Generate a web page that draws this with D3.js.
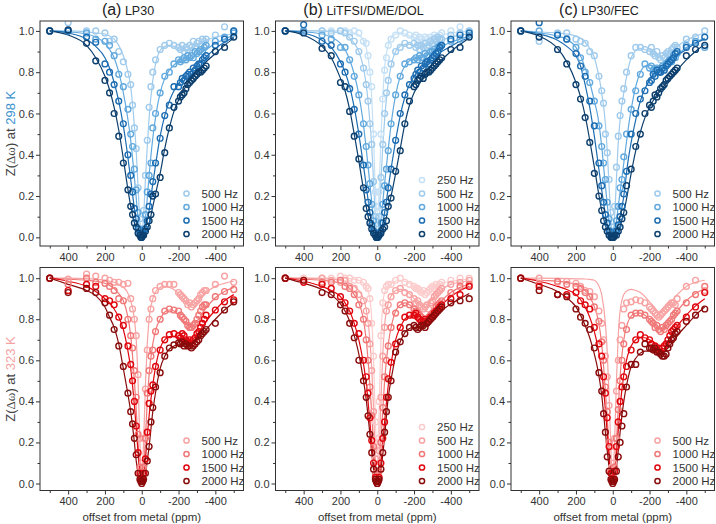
<!DOCTYPE html>
<html><head><meta charset="utf-8">
<script src="https://cdn.jsdelivr.net/npm/d3@7"></script>
<style>body{margin:0;background:#fff} text{font-family:"Liberation Sans",Arial,sans-serif}</style>
</head><body><svg id="c" width="716" height="524"></svg>
<script>
// ---------- DATA ----------
const offsets = [500,400,300,250,200,175,150,125,100,75,60,50,40,30,20,10,5,0,-5,-10,-20,-30,-40,-50,-60,-75,-100,-125,-150,-175,-200,-210,-220,-230,-240,-250,-260,-270,-280,-290,-300,-310,-320,-330,-340,-350,-400,-450,-500];
const fitOffsets = [500,400,300,250,200,175,150,125,100,80,60,40,30,20,10,0,-10,-20,-30,-40,-60,-80,-100,-125,-150,-175,-200,-225,-250,-275,-300,-350,-400,-450,-500];
const xTickValues = [400,200,0,-200,-400];
const xMinorValues = [500,300,100,-100,-300,-500];
const yTickValues = [0,0.2,0.4,0.6,0.8,1.0];
const yMinorValues = [0.1,0.3,0.5,0.7,0.9];
const panelTitles = [["(a)","LP30"],["(b)","LiTFSI/DME/DOL"],["(c)","LP30/FEC"]];
const temps = ["298 K","323 K"];

// (a) LP30, 298 K
const a298_500  = [1.00,1.04,1.00,1.00,0.99,0.95,0.96,0.90,0.85,0.79,0.74,0.64,0.53,0.43,0.24,0.09,0.03,0.02,0.04,0.13,0.30,0.47,0.63,0.73,0.80,0.86,0.91,0.93,0.94,0.93,0.92,0.91,0.93,0.90,0.92,0.91,0.93,0.92,0.95,0.92,0.94,0.95,0.93,0.96,0.95,0.96,0.98,1.02,1.00];
const a298_1000 = [1.00,1.00,0.99,0.96,0.95,0.93,0.88,0.79,0.73,0.62,0.50,0.44,0.33,0.23,0.12,0.04,0.02,0.01,0.02,0.04,0.11,0.22,0.30,0.36,0.53,0.60,0.70,0.78,0.80,0.84,0.86,0.85,0.86,0.87,0.86,0.88,0.87,0.88,0.87,0.90,0.89,0.90,0.91,0.90,0.92,0.93,0.95,0.97,0.99];
const a298_1500 = [1.00,1.00,0.97,0.945,0.84,0.80,0.74,0.66,0.55,0.40,0.30,0.22,0.14,0.09,0.04,0.02,0.01,0.00,0.01,0.02,0.04,0.08,0.15,0.21,0.27,0.36,0.48,0.59,0.64,0.73,0.73,0.75,0.77,0.76,0.78,0.79,0.80,0.79,0.82,0.81,0.83,0.84,0.84,0.86,0.87,0.88,0.93,0.96,1.00];
const a298_2000 = [1.00,1.005,0.94,0.855,0.76,0.70,0.60,0.49,0.36,0.23,0.15,0.11,0.07,0.05,0.02,0.01,0.00,0.00,0.01,0.01,0.03,0.05,0.08,0.11,0.20,0.21,0.29,0.41,0.53,0.63,0.66,0.68,0.69,0.70,0.72,0.74,0.75,0.76,0.77,0.78,0.79,0.80,0.80,0.81,0.82,0.83,0.90,0.92,0.97];
const a298_500_fit  = [1.0,1.0,0.995,0.99,0.985,0.975,0.96,0.93,0.88,0.82,0.73,0.54,0.42,0.24,0.08,0.01,0.1,0.28,0.44,0.58,0.76,0.86,0.905,0.925,0.93,0.925,0.915,0.905,0.905,0.915,0.93,0.955,0.97,0.98,0.985];
const a298_1000_fit = [1.0,0.995,0.985,0.97,0.94,0.91,0.87,0.8,0.7,0.6,0.47,0.29,0.19,0.09,0.025,0.005,0.025,0.09,0.19,0.3,0.48,0.61,0.7,0.77,0.81,0.835,0.85,0.855,0.86,0.87,0.885,0.91,0.94,0.96,0.98];
const a298_1500_fit = [1.0,0.99,0.96,0.925,0.87,0.82,0.75,0.66,0.54,0.42,0.28,0.14,0.08,0.035,0.01,0,0.01,0.035,0.08,0.13,0.26,0.38,0.49,0.59,0.66,0.71,0.745,0.77,0.79,0.81,0.835,0.875,0.915,0.945,0.97];
const a298_2000_fit = [1.0,0.98,0.93,0.87,0.78,0.715,0.63,0.52,0.38,0.26,0.15,0.07,0.04,0.018,0.005,0,0.005,0.018,0.04,0.065,0.15,0.23,0.31,0.43,0.53,0.61,0.665,0.71,0.745,0.775,0.8,0.85,0.89,0.93,0.965];

// (b) LiTFSI/DME/DOL, 298 K
const b298_250  = [1.00,1.00,1.00,1.00,1.00,1.00,0.99,1.00,0.99,0.95,0.94,0.88,0.80,0.73,0.50,0.22,0.15,0.12,0.15,0.22,0.50,0.67,0.81,0.87,0.93,0.96,0.98,1.00,0.99,0.98,0.97,0.98,0.95,0.97,0.96,0.95,0.97,0.96,0.95,0.97,0.96,0.98,0.97,0.96,0.98,0.99,1.00,1.02,1.00];
const b298_500  = [1.00,1.00,1.00,0.99,1.00,0.99,0.97,0.95,0.90,0.82,0.74,0.66,0.55,0.45,0.27,0.10,0.04,0.02,0.04,0.10,0.29,0.45,0.60,0.70,0.76,0.84,0.90,0.92,0.94,0.93,0.94,0.92,0.93,0.91,0.93,0.92,0.94,0.92,0.93,0.95,0.94,0.96,0.95,0.97,0.96,0.96,0.98,0.99,1.00];
const b298_1000 = [1.00,1.00,0.98,0.96,0.92,0.92,0.86,0.78,0.69,0.55,0.44,0.35,0.26,0.16,0.08,0.02,0.01,0.01,0.01,0.02,0.07,0.16,0.25,0.33,0.42,0.55,0.69,0.78,0.84,0.85,0.86,0.87,0.86,0.88,0.87,0.87,0.89,0.88,0.88,0.90,0.90,0.91,0.90,0.92,0.93,0.93,0.95,0.96,0.98];
const b298_1500 = [1.00,1.03,0.95,0.93,0.84,0.80,0.72,0.62,0.50,0.35,0.23,0.17,0.12,0.06,0.03,0.01,0.00,0.00,0.00,0.01,0.03,0.07,0.12,0.17,0.24,0.33,0.47,0.60,0.69,0.74,0.77,0.79,0.81,0.80,0.83,0.82,0.84,0.85,0.84,0.86,0.87,0.88,0.89,0.90,0.92,0.93,0.96,0.98,0.99];
const b298_2000 = [1.00,0.99,0.915,0.88,0.75,0.73,0.61,0.49,0.38,0.24,0.14,0.10,0.07,0.04,0.02,0.01,0.00,0.00,0.01,0.01,0.02,0.04,0.05,0.08,0.15,0.19,0.32,0.42,0.55,0.66,0.73,0.74,0.76,0.77,0.78,0.77,0.79,0.80,0.80,0.81,0.82,0.83,0.84,0.85,0.86,0.87,0.91,0.92,0.97];
const b298_250_fit  = [1.0,1.0,1.0,1.0,1.0,1.0,0.995,0.99,0.98,0.96,0.92,0.8,0.68,0.48,0.22,0.12,0.22,0.48,0.68,0.82,0.93,0.97,0.985,0.99,0.985,0.975,0.965,0.955,0.955,0.96,0.97,0.98,0.99,0.995,1.0];
const b298_500_fit  = [1.0,1.0,1.0,0.995,0.99,0.98,0.965,0.94,0.9,0.84,0.74,0.56,0.44,0.27,0.09,0.02,0.09,0.27,0.44,0.57,0.75,0.85,0.9,0.925,0.935,0.935,0.93,0.925,0.925,0.93,0.94,0.955,0.97,0.98,0.985];
const b298_1000_fit = [1.0,0.995,0.985,0.97,0.94,0.91,0.86,0.79,0.69,0.58,0.43,0.26,0.17,0.08,0.02,0.005,0.02,0.08,0.17,0.26,0.43,0.58,0.69,0.78,0.83,0.855,0.865,0.87,0.875,0.885,0.9,0.925,0.945,0.96,0.975];
const b298_1500_fit = [1.0,0.99,0.955,0.92,0.85,0.8,0.73,0.63,0.5,0.38,0.25,0.12,0.07,0.03,0.008,0,0.008,0.03,0.07,0.12,0.24,0.36,0.47,0.59,0.68,0.74,0.78,0.81,0.83,0.85,0.87,0.9,0.925,0.95,0.965];
const b298_2000_fit = [1.0,0.98,0.925,0.87,0.77,0.71,0.62,0.5,0.37,0.26,0.15,0.065,0.035,0.015,0.004,0,0.004,0.015,0.035,0.06,0.14,0.22,0.31,0.43,0.55,0.64,0.7,0.74,0.77,0.795,0.82,0.86,0.9,0.935,0.965];

// (c) LP30/FEC, 298 K
const c298_500  = [1.00,0.95,0.99,0.99,0.96,0.95,0.94,0.90,0.88,0.78,0.71,0.65,0.50,0.41,0.28,0.12,0.05,0.02,0.05,0.15,0.34,0.49,0.59,0.66,0.72,0.80,0.88,0.92,0.92,0.91,0.90,0.92,0.89,0.88,0.90,0.87,0.86,0.88,0.87,0.89,0.90,0.89,0.91,0.92,0.93,0.92,0.96,0.97,1.00];
const c298_1000 = [1.00,1.00,0.98,0.96,0.92,0.87,0.80,0.75,0.66,0.54,0.44,0.36,0.28,0.17,0.09,0.03,0.01,0.01,0.01,0.03,0.08,0.15,0.24,0.28,0.39,0.50,0.62,0.71,0.79,0.84,0.82,0.83,0.81,0.80,0.82,0.81,0.80,0.83,0.82,0.84,0.85,0.86,0.85,0.88,0.87,0.89,0.93,0.95,0.92];
const c298_1500 = [1.00,1.04,0.98,0.96,0.89,0.83,0.78,0.66,0.54,0.36,0.25,0.17,0.11,0.07,0.03,0.01,0.00,0.00,0.01,0.01,0.03,0.06,0.10,0.15,0.21,0.32,0.50,0.60,0.67,0.71,0.75,0.76,0.79,0.78,0.81,0.80,0.80,0.82,0.81,0.83,0.84,0.85,0.86,0.87,0.89,0.90,0.92,0.94,0.97];
const c298_2000 = [1.00,0.97,0.91,0.84,0.74,0.67,0.58,0.46,0.31,0.20,0.13,0.08,0.05,0.03,0.01,0.00,0.00,0.00,0.00,0.01,0.01,0.03,0.05,0.09,0.12,0.25,0.33,0.44,0.50,0.60,0.64,0.63,0.66,0.69,0.68,0.70,0.72,0.73,0.74,0.76,0.77,0.78,0.79,0.80,0.81,0.82,0.88,0.91,0.93];
const c298_500_fit  = [1.0,0.995,0.99,0.985,0.975,0.965,0.945,0.915,0.87,0.8,0.7,0.55,0.42,0.25,0.09,0.02,0.1,0.28,0.46,0.57,0.7,0.8,0.87,0.905,0.915,0.91,0.9,0.885,0.875,0.88,0.895,0.925,0.955,0.975,0.99];
const c298_1000_fit = [1.0,0.99,0.975,0.96,0.92,0.88,0.82,0.75,0.66,0.58,0.44,0.25,0.16,0.08,0.02,0.005,0.02,0.08,0.15,0.22,0.36,0.5,0.62,0.73,0.8,0.83,0.835,0.83,0.825,0.835,0.85,0.885,0.92,0.945,0.965];
const c298_1500_fit = [1.0,0.985,0.955,0.925,0.88,0.83,0.74,0.63,0.49,0.36,0.23,0.11,0.06,0.025,0.006,0,0.006,0.025,0.06,0.1,0.2,0.35,0.46,0.57,0.66,0.72,0.76,0.785,0.8,0.82,0.84,0.88,0.91,0.94,0.96];
const c298_2000_fit = [1.0,0.975,0.915,0.85,0.75,0.68,0.59,0.47,0.34,0.23,0.13,0.06,0.03,0.013,0.003,0,0.003,0.013,0.03,0.055,0.12,0.21,0.31,0.42,0.51,0.58,0.63,0.67,0.7,0.73,0.76,0.81,0.86,0.9,0.935];

// (a) LP30, 323 K
const a323_500  = [1.00,0.995,1.02,1.01,1.00,0.99,0.98,0.98,0.97,0.975,0.90,0.85,0.80,0.72,0.53,0.22,0.08,0.03,0.10,0.22,0.46,0.65,0.80,0.85,0.90,0.94,0.96,0.97,0.97,0.97,0.93,0.92,0.91,0.90,0.89,0.87,0.88,0.86,0.87,0.88,0.89,0.90,0.92,0.93,0.94,0.94,0.97,1.01,0.98];
const a323_1000 = [1.00,0.97,1.00,0.98,0.975,0.96,0.94,0.90,0.89,0.80,0.72,0.66,0.55,0.42,0.24,0.08,0.03,0.01,0.03,0.08,0.22,0.44,0.55,0.62,0.65,0.74,0.80,0.84,0.85,0.845,0.84,0.82,0.81,0.80,0.79,0.77,0.76,0.76,0.77,0.78,0.80,0.82,0.84,0.86,0.87,0.87,0.91,0.935,0.945];
const a323_1500 = [1.00,0.94,0.97,0.96,0.90,0.89,0.87,0.81,0.77,0.67,0.58,0.50,0.40,0.28,0.15,0.05,0.02,0.01,0.02,0.05,0.12,0.25,0.39,0.45,0.48,0.57,0.65,0.70,0.725,0.73,0.72,0.71,0.73,0.72,0.70,0.69,0.70,0.68,0.70,0.71,0.73,0.74,0.76,0.78,0.80,0.82,0.845,0.885,0.895];
const a323_2000 = [1.00,0.93,0.95,0.93,0.88,0.82,0.75,0.67,0.57,0.44,0.35,0.29,0.22,0.14,0.05,0.02,0.01,0.00,0.01,0.02,0.05,0.11,0.18,0.30,0.37,0.47,0.54,0.62,0.66,0.675,0.685,0.68,0.69,0.67,0.68,0.67,0.67,0.66,0.67,0.68,0.69,0.70,0.72,0.73,0.74,0.75,0.78,0.845,0.885];
const a323_500_fit  = [1.0,1.0,0.998,0.995,0.99,0.985,0.98,0.97,0.955,0.935,0.89,0.8,0.7,0.5,0.2,0.03,0.2,0.48,0.68,0.8,0.9,0.94,0.955,0.96,0.955,0.945,0.925,0.9,0.875,0.87,0.885,0.93,0.96,0.975,0.985];
const a323_1000_fit = [1.0,0.995,0.99,0.985,0.975,0.965,0.95,0.925,0.89,0.83,0.72,0.5,0.36,0.2,0.06,0.01,0.07,0.22,0.4,0.53,0.68,0.76,0.8,0.835,0.845,0.84,0.82,0.795,0.77,0.765,0.79,0.855,0.905,0.935,0.955];
const a323_1500_fit = [1.0,0.985,0.96,0.935,0.9,0.88,0.85,0.81,0.75,0.67,0.56,0.38,0.27,0.15,0.04,0.005,0.04,0.12,0.23,0.33,0.48,0.59,0.66,0.7,0.715,0.715,0.71,0.7,0.695,0.7,0.725,0.79,0.845,0.89,0.92];
const a323_2000_fit = [1.0,0.97,0.94,0.915,0.86,0.81,0.76,0.68,0.56,0.46,0.35,0.2,0.11,0.05,0.015,0.002,0.015,0.05,0.11,0.18,0.35,0.47,0.56,0.62,0.655,0.67,0.675,0.675,0.675,0.68,0.7,0.75,0.8,0.845,0.88];

// (b) LiTFSI/DME/DOL, 323 K
const b323_250  = [1.00,1.00,1.00,1.00,1.01,1.00,1.00,0.99,0.99,0.98,0.96,0.95,0.90,0.78,0.62,0.30,0.20,0.15,0.22,0.40,0.72,0.88,0.94,0.96,0.97,0.97,0.99,1.00,0.98,0.97,0.96,0.95,0.95,0.94,0.93,0.94,0.92,0.93,0.94,0.95,0.96,0.95,0.97,0.96,0.97,0.98,0.99,1.00,1.00];
const b323_500  = [1.00,0.99,1.00,0.99,0.98,0.99,0.96,0.95,0.92,0.89,0.84,0.78,0.68,0.55,0.35,0.12,0.05,0.02,0.05,0.16,0.42,0.62,0.76,0.84,0.87,0.91,0.94,0.95,0.93,0.92,0.90,0.88,0.89,0.87,0.86,0.85,0.86,0.87,0.85,0.88,0.89,0.91,0.92,0.93,0.94,0.95,0.97,0.98,0.99];
const b323_1000 = [1.00,0.99,0.98,0.98,0.99,0.96,0.95,0.92,0.87,0.80,0.70,0.60,0.47,0.33,0.18,0.05,0.02,0.01,0.02,0.06,0.20,0.37,0.52,0.60,0.67,0.76,0.83,0.87,0.88,0.87,0.85,0.84,0.83,0.82,0.81,0.80,0.79,0.80,0.81,0.82,0.83,0.84,0.86,0.87,0.88,0.89,0.93,0.96,0.97];
const b323_1500 = [1.00,0.98,0.97,0.95,0.91,0.88,0.84,0.78,0.73,0.60,0.52,0.44,0.32,0.21,0.10,0.03,0.01,0.00,0.01,0.03,0.10,0.22,0.30,0.42,0.51,0.59,0.68,0.76,0.81,0.82,0.82,0.83,0.81,0.80,0.79,0.79,0.80,0.78,0.80,0.81,0.81,0.83,0.84,0.85,0.86,0.87,0.90,0.92,0.96];
const b323_2000 = [1.00,0.99,0.93,0.92,0.87,0.84,0.78,0.71,0.60,0.50,0.42,0.33,0.24,0.15,0.07,0.02,0.01,0.00,0.01,0.02,0.07,0.15,0.25,0.35,0.42,0.50,0.64,0.69,0.73,0.76,0.77,0.76,0.75,0.76,0.77,0.77,0.76,0.78,0.79,0.80,0.81,0.82,0.83,0.84,0.85,0.86,0.88,0.89,0.90];
const b323_250_fit  = [1.0,1.0,1.0,1.0,1.0,1.0,0.998,0.995,0.99,0.98,0.96,0.9,0.8,0.6,0.3,0.15,0.35,0.7,0.87,0.93,0.96,0.975,0.985,0.99,0.985,0.975,0.96,0.945,0.935,0.94,0.955,0.975,0.985,0.99,0.995];
const b323_500_fit  = [1.0,1.0,0.998,0.995,0.99,0.985,0.975,0.96,0.94,0.91,0.85,0.7,0.56,0.36,0.12,0.02,0.14,0.4,0.63,0.77,0.88,0.92,0.94,0.945,0.94,0.925,0.9,0.875,0.86,0.87,0.9,0.945,0.97,0.98,0.985];
const b323_1000_fit = [1.0,0.995,0.99,0.985,0.975,0.965,0.95,0.92,0.88,0.82,0.7,0.48,0.34,0.18,0.05,0.01,0.06,0.2,0.36,0.5,0.68,0.78,0.84,0.87,0.88,0.87,0.85,0.825,0.8,0.8,0.83,0.89,0.93,0.955,0.97];
const b323_1500_fit = [1.0,0.985,0.96,0.94,0.91,0.88,0.84,0.78,0.7,0.61,0.49,0.3,0.2,0.1,0.025,0.003,0.03,0.1,0.2,0.3,0.48,0.61,0.7,0.76,0.8,0.815,0.815,0.805,0.795,0.8,0.82,0.87,0.91,0.94,0.96];
const b323_2000_fit = [1.0,0.975,0.945,0.92,0.875,0.84,0.79,0.72,0.63,0.53,0.41,0.24,0.15,0.07,0.02,0.002,0.02,0.07,0.14,0.23,0.42,0.53,0.62,0.69,0.735,0.755,0.76,0.76,0.765,0.775,0.795,0.84,0.875,0.9,0.925];

// (c) LP30/FEC, 323 K
const c323_500  = [1.00,1.00,0.98,0.985,0.975,0.96,0.94,0.935,0.91,0.84,0.78,0.70,0.62,0.52,0.38,0.18,0.08,0.02,0.10,0.22,0.45,0.60,0.70,0.77,0.85,0.88,0.885,0.895,0.89,0.88,0.86,0.85,0.84,0.83,0.82,0.81,0.82,0.83,0.84,0.85,0.86,0.87,0.88,0.88,0.87,0.90,0.96,0.99,0.94];
const c323_1000 = [1.00,0.97,0.985,0.97,0.96,0.95,0.93,0.91,0.86,0.79,0.69,0.60,0.47,0.35,0.20,0.06,0.02,0.01,0.03,0.08,0.22,0.36,0.50,0.60,0.68,0.75,0.82,0.83,0.83,0.82,0.80,0.79,0.78,0.76,0.77,0.75,0.74,0.76,0.75,0.77,0.78,0.79,0.80,0.82,0.83,0.84,0.88,0.92,0.96];
const c323_1500 = [1.00,0.96,0.92,0.92,0.93,0.89,0.87,0.85,0.76,0.68,0.62,0.52,0.44,0.32,0.18,0.05,0.02,0.01,0.02,0.06,0.18,0.30,0.40,0.47,0.52,0.57,0.65,0.70,0.725,0.71,0.70,0.68,0.66,0.67,0.65,0.66,0.64,0.66,0.67,0.68,0.70,0.72,0.74,0.75,0.76,0.77,0.81,0.86,0.93];
const c323_2000 = [1.00,0.94,0.92,0.91,0.85,0.81,0.78,0.75,0.66,0.54,0.45,0.34,0.25,0.13,0.06,0.02,0.01,0.00,0.01,0.02,0.06,0.13,0.20,0.28,0.34,0.47,0.58,0.58,0.64,0.68,0.66,0.66,0.65,0.66,0.64,0.64,0.63,0.62,0.62,0.63,0.66,0.68,0.70,0.71,0.73,0.74,0.79,0.82,0.85];
const c323_500_fit  = [1.0,1.0,0.999,0.998,0.997,0.997,0.996,0.994,0.99,0.97,0.92,0.78,0.64,0.43,0.16,0.02,0.2,0.5,0.72,0.84,0.92,0.94,0.945,0.94,0.93,0.91,0.885,0.86,0.835,0.84,0.865,0.92,0.96,0.98,0.99];
const c323_1000_fit = [1.0,0.99,0.985,0.98,0.97,0.96,0.94,0.91,0.86,0.8,0.68,0.45,0.32,0.17,0.05,0.01,0.06,0.2,0.37,0.52,0.7,0.78,0.815,0.83,0.83,0.82,0.8,0.775,0.755,0.755,0.78,0.84,0.89,0.925,0.95];
const c323_1500_fit = [1.0,0.985,0.96,0.945,0.92,0.895,0.86,0.81,0.74,0.66,0.55,0.36,0.25,0.13,0.035,0.005,0.04,0.14,0.26,0.37,0.53,0.62,0.67,0.7,0.71,0.71,0.7,0.685,0.67,0.67,0.695,0.765,0.82,0.865,0.9];
const c323_2000_fit = [1.0,0.97,0.935,0.905,0.86,0.82,0.77,0.71,0.63,0.55,0.43,0.25,0.16,0.08,0.02,0.003,0.02,0.08,0.16,0.25,0.4,0.5,0.57,0.61,0.635,0.645,0.645,0.64,0.635,0.64,0.66,0.72,0.77,0.82,0.86];

const blues = {"250 Hz":"#c6e1f5","500 Hz":"#a0cbec","1000 Hz":"#62a9de","1500 Hz":"#1d6db2","2000 Hz":"#0c3f6d"};
const reds  = {"250 Hz":"#fccccc","500 Hz":"#f8a3a3","1000 Hz":"#f07878","1500 Hz":"#e0060e","2000 Hz":"#8a0b0b"};

// ---------- LAYOUT ----------
const colLeft = [40, 275.5, 511], pw = 203.5;
const rowsGeo = [
  {top:21, bottom:246, dom:[-0.042,1.048], lab:"#3d93cf"},
  {top:267.5, bottom:490.5, dom:[-0.034,1.052], lab:"#f4a3a3"}
];
const panels = [
  {c:0,r:0,s:[["500 Hz",a298_500,a298_500_fit],["1000 Hz",a298_1000,a298_1000_fit],["1500 Hz",a298_1500,a298_1500_fit],["2000 Hz",a298_2000,a298_2000_fit]]},
  {c:1,r:0,s:[["250 Hz",b298_250,b298_250_fit],["500 Hz",b298_500,b298_500_fit],["1000 Hz",b298_1000,b298_1000_fit],["1500 Hz",b298_1500,b298_1500_fit],["2000 Hz",b298_2000,b298_2000_fit]]},
  {c:2,r:0,s:[["500 Hz",c298_500,c298_500_fit],["1000 Hz",c298_1000,c298_1000_fit],["1500 Hz",c298_1500,c298_1500_fit],["2000 Hz",c298_2000,c298_2000_fit]]},
  {c:0,r:1,s:[["500 Hz",a323_500,a323_500_fit],["1000 Hz",a323_1000,a323_1000_fit],["1500 Hz",a323_1500,a323_1500_fit],["2000 Hz",a323_2000,a323_2000_fit]]},
  {c:1,r:1,s:[["250 Hz",b323_250,b323_250_fit],["500 Hz",b323_500,b323_500_fit],["1000 Hz",b323_1000,b323_1000_fit],["1500 Hz",b323_1500,b323_1500_fit],["2000 Hz",b323_2000,b323_2000_fit]]},
  {c:2,r:1,s:[["500 Hz",c323_500,c323_500_fit],["1000 Hz",c323_1000,c323_1000_fit],["1500 Hz",c323_1500,c323_1500_fit],["2000 Hz",c323_2000,c323_2000_fit]]}
];

const svg = d3.select("#c");
const axisCol = "#333";

panels.forEach((p,pi)=>{
  const L = colLeft[p.c], R = L + pw, g0 = rowsGeo[p.r];
  const pal = p.r === 0 ? blues : reds;
  const x = d3.scaleLinear().domain([553,-553]).range([L,R]);
  const y = d3.scaleLinear().domain(g0.dom).range([g0.bottom,g0.top]);
  const clipId = "clip"+pi;
  svg.append("clipPath").attr("id",clipId).append("rect")
    .attr("x",L).attr("y",g0.top).attr("width",pw).attr("height",g0.bottom-g0.top);

  const styleAxis = sel => {
    sel.select(".domain").remove();
    sel.selectAll("line").attr("stroke",axisCol);
    sel.selectAll("text").attr("fill",axisCol).style("font-size","11px").style("font-family","'Liberation Sans',Arial,sans-serif");
  };
  svg.append("g").attr("transform",`translate(0,${g0.bottom})`)
    .call(d3.axisBottom(x).tickValues(xTickValues).tickSize(4).tickPadding(3).tickFormat(d=>String(d))).call(styleAxis);
  svg.append("g").attr("transform",`translate(0,${g0.bottom})`)
    .call(d3.axisBottom(x).tickValues(xMinorValues).tickSize(2.5).tickFormat("")).call(styleAxis);
  svg.append("g").attr("transform",`translate(${L},0)`)
    .call(d3.axisLeft(y).tickValues(yTickValues).tickSize(4).tickPadding(2).tickFormat(d3.format(".1f"))).call(styleAxis);
  svg.append("g").attr("transform",`translate(${L},0)`)
    .call(d3.axisLeft(y).tickValues(yMinorValues).tickSize(2.5).tickFormat("")).call(styleAxis);

  const plot = svg.append("g").attr("clip-path",`url(#${clipId})`);
  const line = d3.line().x(d=>x(d[0])).y(d=>y(d[1])).curve(d3.curveMonotoneX);
  p.s.forEach(([lab,pts,fit])=>{
    plot.append("path").datum(fitOffsets.map((o,i)=>[o,fit[i]]))
      .attr("d",line).attr("fill","none").attr("stroke",pal[lab]).attr("stroke-width",1.2);
  });
  p.s.forEach(([lab,pts,fit])=>{
    plot.append("g").selectAll("circle").data(offsets.map((o,i)=>[o,pts[i]])).join("circle")
      .attr("cx",d=>x(d[0])).attr("cy",d=>y(d[1])).attr("r",2.9)
      .attr("fill","none").attr("stroke",pal[lab]).attr("stroke-width",1.4);
  });

  svg.append("rect").attr("x",L).attr("y",g0.top).attr("width",pw).attr("height",g0.bottom-g0.top)
    .attr("fill","none").attr("stroke",axisCol).attr("stroke-width",1);

  // legend
  const n = p.s.length, lastY = g0.bottom - (p.r===0 ? 12 : 9.5), step = 13.5;
  p.s.forEach(([lab],i)=>{
    const yy = lastY - (n-1-i)*step;
    svg.append("circle").attr("cx",R-57).attr("cy",yy).attr("r",2.6)
      .attr("fill","none").attr("stroke",pal[lab]).attr("stroke-width",1.5);
    svg.append("text").attr("x",R-42).attr("y",yy).attr("dy","0.36em")
      .attr("fill",axisCol).style("font-size","11.5px").text(lab);
  });

  if (p.r === 0) {
    const t = svg.append("text").attr("x",L+88).attr("y",14.5).attr("text-anchor","middle").attr("fill","#222");
    t.append("tspan").style("font-size","16px").text(panelTitles[p.c][0]);
    t.append("tspan").style("font-size","12.5px").text(" " + panelTitles[p.c][1]);
  }
  if (p.c === 0) {
    const t = svg.append("text").attr("transform",`translate(14.5,${(g0.top+g0.bottom)/2}) rotate(-90)`)
      .attr("text-anchor","middle").attr("fill","#444").style("font-size","13px");
    t.append("tspan").text("Z(");
    t.append("tspan").style("font-family","'Liberation Serif',serif").text("Δω");
    t.append("tspan").text(") at ");
    t.append("tspan").attr("fill",g0.lab).text(temps[p.r]);
  }
  if (p.r === 1) {
    svg.append("text").attr("x",x(0)).attr("y",521).attr("text-anchor","middle")
      .attr("fill",axisCol).style("font-size","11.5px").text("offset from metal (ppm)");
  }
});
</script></body></html>
